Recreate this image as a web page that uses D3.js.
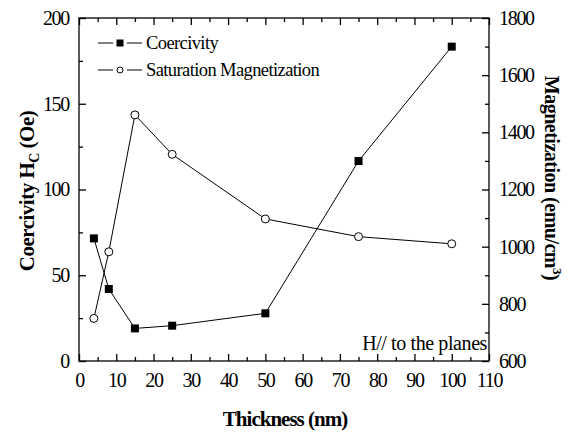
<!DOCTYPE html>
<html>
<head>
<meta charset="utf-8">
<script src="https://cdn.jsdelivr.net/npm/d3@7/dist/d3.min.js"></script>
<style>
  body { margin: 0; background: #fff; }
  svg, svg text { font-family: "Liberation Serif", "Tinos", "Times New Roman", Times, "DejaVu Serif", serif; }
</style>
</head>
<body>
<svg id="chart" width="576" height="436"></svg>
<script>
// Film thickness (nm)
const thickness = [4, 8, 15, 25, 50, 75, 100];
// Coercivity Hc (Oe), left axis
const coercivity = [71.5, 42, 19, 20.6, 27.8, 116.6, 183.3];
// Saturation magnetization (emu/cm^3), right axis
const magnetization = [749, 982, 1461, 1323, 1097, 1035, 1010];

const xTicks = [0, 10, 20, 30, 40, 50, 60, 70, 80, 90, 100, 110];
const yLeftTicks = [0, 50, 100, 150, 200];
const yRightTicks = [600, 800, 1000, 1200, 1400, 1600, 1800];

const svg = d3.select("#chart");
const m = { left: 79, right: 489, top: 18, bottom: 361 };

const x = d3.scaleLinear().domain([0, 110]).range([m.left, m.right]);
const yL = d3.scaleLinear().domain([0, 200]).range([m.bottom, m.top]);
const yR = d3.scaleLinear().domain([600, 1800]).range([m.bottom, m.top]);

const tickFont = "20px";

// Frame
svg.append("rect")
  .attr("x", m.left).attr("y", m.top)
  .attr("width", m.right - m.left).attr("height", m.bottom - m.top)
  .attr("fill", "none").attr("stroke", "#000").attr("stroke-width", 1.3);

function styleAxis(g) {
  g.attr("font-family", null).attr("font-size", null);
  g.select(".domain").remove();
  g.selectAll("line").attr("stroke", "#000").attr("stroke-width", 1.3);
  g.selectAll("text")
    .attr("fill", "#000")
    .style("font-size", tickFont)
    .style("letter-spacing", "-1.3px");
}

// Bottom axis: inward major and minor ticks
const minorX = d3.range(5, 110, 10);
svg.append("g").attr("transform", `translate(0,${m.bottom})`)
  .call(d3.axisBottom(x).tickValues(minorX).tickSize(-4).tickFormat(""))
  .call(styleAxis);
svg.append("g").attr("transform", `translate(0,${m.bottom})`)
  .call(d3.axisBottom(x).tickValues(xTicks).tickSize(-7).tickPadding(12).tickFormat(d3.format("d")))
  .call(styleAxis);

// Top axis: ticks only
svg.append("g").attr("transform", `translate(0,${m.top})`)
  .call(d3.axisTop(x).tickValues(minorX).tickSize(-4).tickFormat(""))
  .call(styleAxis);
svg.append("g").attr("transform", `translate(0,${m.top})`)
  .call(d3.axisTop(x).tickValues(xTicks).tickSize(-7).tickFormat(""))
  .call(styleAxis);

// Left axis
const minorYL = [25, 75, 125, 175];
svg.append("g").attr("transform", `translate(${m.left},0)`)
  .call(d3.axisLeft(yL).tickValues(minorYL).tickSize(-4).tickFormat(""))
  .call(styleAxis);
svg.append("g").attr("transform", `translate(${m.left},0)`)
  .call(d3.axisLeft(yL).tickValues(yLeftTicks).tickSize(-7).tickPadding(10).tickFormat(d3.format("d")))
  .call(styleAxis);

// Right axis
const minorYR = [700, 900, 1100, 1300, 1500, 1700];
svg.append("g").attr("transform", `translate(${m.right},0)`)
  .call(d3.axisRight(yR).tickValues(minorYR).tickSize(-4).tickFormat(""))
  .call(styleAxis);
svg.append("g").attr("transform", `translate(${m.right},0)`)
  .call(d3.axisRight(yR).tickValues(yRightTicks).tickSize(-7).tickPadding(10).tickFormat(d3.format("d")))
  .call(styleAxis);

// Coercivity series
const coPts = thickness.map((t, i) => [x(t), yL(coercivity[i])]);
svg.append("path").attr("d", d3.line()(coPts))
  .attr("fill", "none").attr("stroke", "#000").attr("stroke-width", 1);
svg.selectAll(".sq").data(coPts).enter().append("rect")
  .attr("x", d => d[0] - 4).attr("y", d => d[1] - 4)
  .attr("width", 8).attr("height", 8).attr("fill", "#000");

// Magnetization series
const mgPts = thickness.map((t, i) => [x(t), yR(magnetization[i])]);
svg.append("path").attr("d", d3.line()(mgPts))
  .attr("fill", "none").attr("stroke", "#000").attr("stroke-width", 1);
svg.selectAll(".ci").data(mgPts).enter().append("circle")
  .attr("cx", d => d[0]).attr("cy", d => d[1]).attr("r", 4)
  .attr("fill", "#fff").attr("stroke", "#000").attr("stroke-width", 1);

// Legend
const legend = svg.append("g");
[[43, "sq", "Coercivity"], [70, "ci", "Saturation Magnetization"]].forEach(([ly, kind, label]) => {
  legend.append("line").attr("x1", 98).attr("x2", 113).attr("y1", ly).attr("y2", ly)
    .attr("stroke", "#000").attr("stroke-width", 1);
  legend.append("line").attr("x1", 127).attr("x2", 142).attr("y1", ly).attr("y2", ly)
    .attr("stroke", "#000").attr("stroke-width", 1);
  if (kind === "sq") {
    legend.append("rect").attr("x", 116.5).attr("y", ly - 3.5).attr("width", 7).attr("height", 7).attr("fill", "#000");
  } else {
    legend.append("circle").attr("cx", 120).attr("cy", ly).attr("r", 3)
      .attr("fill", "#fff").attr("stroke", "#000").attr("stroke-width", 1);
  }
  legend.append("text").attr("x", 146).attr("y", ly + 6)
    .style("font-size", "18.5px").style("letter-spacing", "-0.6px").text(label);
});

// Annotation
svg.append("text").attr("x", 487).attr("y", 350).attr("text-anchor", "end")
  .style("font-size", "20px").style("letter-spacing", "-0.4px").text("H// to the planes");

// Axis titles
svg.append("text").attr("x", 285).attr("y", 426).attr("text-anchor", "middle")
  .style("font-size", "21px").style("font-weight", "bold").style("letter-spacing", "-1px")
  .text("Thickness (nm)");

const lt = svg.append("text")
  .attr("transform", "translate(34,191) rotate(-90)")
  .attr("text-anchor", "middle")
  .style("font-size", "21px").style("font-weight", "bold").style("letter-spacing", "-0.5px");
lt.append("tspan").text("Coercivity H");
lt.append("tspan").attr("dy", 5).style("font-size", "14px").text("C");
lt.append("tspan").attr("dy", -5).text(" (Oe)");

const rt = svg.append("text")
  .attr("transform", "translate(545,178) rotate(90)")
  .attr("text-anchor", "middle")
  .style("font-size", "20px").style("font-weight", "bold").style("letter-spacing", "-0.5px");
rt.append("tspan").text("Magnetization (emu/cm");
rt.append("tspan").attr("dy", -8).style("font-size", "13px").text("3");
rt.append("tspan").attr("dy", 8).text(")");
</script>
</body>
</html>
